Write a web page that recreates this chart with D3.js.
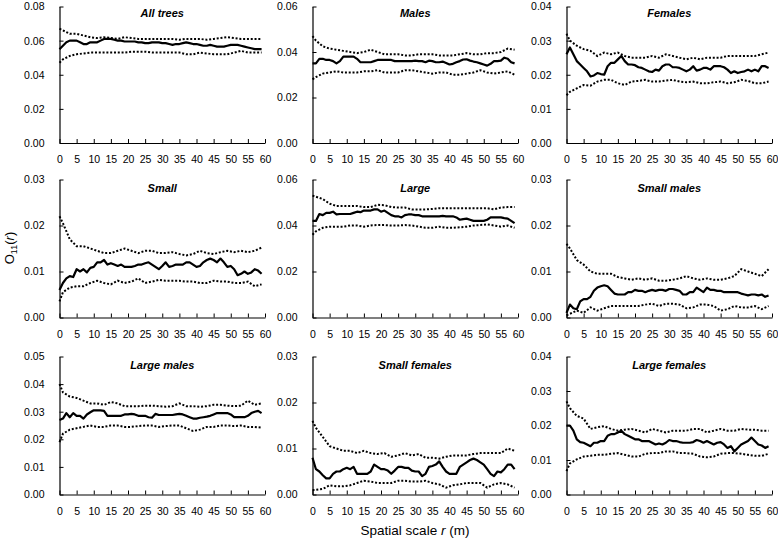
<!DOCTYPE html>
<html><head><meta charset="utf-8">
<script src="https://cdn.jsdelivr.net/npm/d3@7/dist/d3.min.js"></script>
<style>
html,body{margin:0;padding:0;background:#fff;}
svg{display:block;font-family:"Liberation Sans",Arial,sans-serif;}
.tick text{font-size:10.5px;fill:#000;}
</style></head>
<body>
<svg id="chart" width="778" height="542"></svg>
<script>
// ---- x positions (spatial scale r, m) ----
const rObs = d3.range(0, 60);                       // 0..59 step 1
const rEnv = [0].concat(d3.range(1, 60, 2));        // 0,1,3,...,59
const xTicks = [0,5,10,15,20,25,30,35,40,45,50,55,60];

// ---- All trees ----
const allTreesObs = [0.055,0.057,0.059,0.060,0.060,0.060,0.059,0.058,0.058,0.059,
0.059,0.059,0.060,0.061,0.061,0.061,0.0605,0.060,0.060,0.0595,
0.0595,0.0595,0.0595,0.059,0.059,0.0585,0.0585,0.059,0.059,0.059,
0.0585,0.0585,0.058,0.0575,0.058,0.058,0.0585,0.059,0.0585,0.058,
0.058,0.0575,0.057,0.057,0.0575,0.057,0.0565,0.0565,0.0565,0.057,
0.0575,0.0575,0.0575,0.057,0.0565,0.056,0.0555,0.055,0.055,0.055];
const allTreesHi = [0.067, 0.066,0.064,0.064,0.063,0.062,0.0615,0.062,0.0615,0.061,0.062,
0.0615,0.061,0.061,0.061,0.061,0.061,0.061,0.0605,0.061,0.061,
0.061,0.0605,0.061,0.0615,0.062,0.0615,0.061,0.061,0.061,0.061];
const allTreesLo = [0.047, 0.049,0.051,0.052,0.0525,0.053,0.053,0.053,0.053,0.053,0.053,
0.0535,0.0535,0.0535,0.053,0.053,0.053,0.053,0.053,0.052,0.052,
0.053,0.0525,0.052,0.052,0.052,0.053,0.054,0.053,0.053,0.053];

// ---- Males ----
const malesObs = [0.035,0.035,0.037,0.037,0.0365,0.0365,0.036,0.035,0.036,0.038,
0.038,0.038,0.038,0.037,0.0355,0.0355,0.0355,0.0355,0.036,0.0365,
0.0365,0.0365,0.0365,0.0365,0.036,0.036,0.036,0.036,0.036,0.036,
0.0362,0.036,0.036,0.0355,0.0362,0.036,0.0355,0.0355,0.0358,0.0352,
0.0345,0.0348,0.0355,0.036,0.0367,0.0368,0.0362,0.0358,0.0355,0.035,
0.0345,0.034,0.0348,0.036,0.036,0.0362,0.0375,0.037,0.0355,0.035];
const malesHi = [0.047, 0.045,0.0425,0.0415,0.041,0.0405,0.040,0.0395,0.040,0.041,0.040,
0.039,0.039,0.039,0.0385,0.0385,0.039,0.039,0.039,0.0385,0.0385,
0.0385,0.039,0.0395,0.039,0.039,0.0395,0.0395,0.040,0.0415,0.041];
const malesLo = [0.028, 0.029,0.0305,0.031,0.0315,0.031,0.031,0.031,0.0315,0.0315,0.032,
0.031,0.031,0.031,0.032,0.032,0.0315,0.031,0.0305,0.031,0.031,
0.030,0.030,0.0305,0.031,0.032,0.031,0.0305,0.031,0.0315,0.030];

// ---- Females ----
const femalesObs = [0.026,0.028,0.026,0.024,0.023,0.022,0.021,0.0195,0.0198,0.0205,
0.0202,0.020,0.0225,0.0235,0.0235,0.0245,0.0255,0.024,0.023,0.023,
0.0228,0.0222,0.022,0.0215,0.021,0.0208,0.0215,0.0212,0.0225,0.023,
0.023,0.0222,0.0222,0.022,0.0215,0.021,0.0215,0.0225,0.0212,0.0215,
0.022,0.022,0.0215,0.0225,0.0225,0.0225,0.0222,0.0215,0.0205,0.021,
0.0205,0.0208,0.021,0.0215,0.021,0.0215,0.021,0.0225,0.0225,0.022];
const femalesHi = [0.032, 0.030,0.0285,0.0275,0.027,0.0255,0.0265,0.026,0.0265,0.0255,0.025,
0.025,0.025,0.0255,0.025,0.026,0.0255,0.025,0.0245,0.025,0.0245,
0.025,0.025,0.025,0.0255,0.0255,0.0255,0.0255,0.0255,0.026,0.0265];
const femalesLo = [0.014, 0.015,0.016,0.017,0.0168,0.018,0.0185,0.0185,0.0175,0.017,0.018,
0.0182,0.0185,0.018,0.018,0.0183,0.0185,0.018,0.0178,0.018,0.0175,
0.0175,0.0178,0.018,0.0175,0.0178,0.0185,0.0182,0.0175,0.0175,0.018];

// ---- Small ----
const smallObs = [0.006,0.0075,0.0085,0.009,0.0088,0.0105,0.010,0.0105,0.0098,0.0108,
0.011,0.012,0.012,0.0125,0.0115,0.0118,0.0115,0.0112,0.0115,0.011,
0.011,0.011,0.0112,0.0115,0.0115,0.0118,0.012,0.0115,0.011,0.0105,
0.0112,0.012,0.011,0.0112,0.0115,0.0115,0.0115,0.012,0.012,0.0115,
0.011,0.0112,0.012,0.0125,0.0128,0.0125,0.012,0.0128,0.012,0.011,
0.0112,0.0105,0.0092,0.0095,0.010,0.0095,0.0098,0.0105,0.0102,0.0095];
const smallHi = [0.022, 0.0205,0.017,0.0155,0.0155,0.015,0.0145,0.014,0.014,0.0145,0.015,
0.0145,0.014,0.0145,0.0145,0.014,0.014,0.0142,0.0138,0.0135,0.0138,
0.0145,0.014,0.0138,0.0142,0.0145,0.0142,0.0145,0.0142,0.0145,0.0152];
const smallLo = [0.0035, 0.0055,0.0065,0.0068,0.0068,0.0075,0.008,0.0075,0.0072,0.008,0.0075,
0.0078,0.0085,0.0075,0.0078,0.0082,0.008,0.008,0.008,0.0078,0.0078,
0.0075,0.0075,0.008,0.0078,0.0078,0.0075,0.0075,0.0078,0.0068,0.0072];

// ---- Large ----
const largeObs = [0.042,0.042,0.045,0.0445,0.0455,0.0455,0.046,0.0448,0.045,0.045,
0.045,0.045,0.0455,0.046,0.0458,0.0465,0.0465,0.0465,0.047,0.047,
0.046,0.0465,0.0455,0.0445,0.044,0.044,0.0435,0.0445,0.0448,0.0448,
0.0445,0.0445,0.044,0.044,0.044,0.044,0.044,0.044,0.0442,0.044,
0.044,0.044,0.0435,0.0425,0.0428,0.043,0.0425,0.042,0.042,0.042,
0.042,0.0425,0.0435,0.0435,0.0435,0.0435,0.0432,0.043,0.042,0.041];
const largeHi = [0.053, 0.0525,0.0515,0.0495,0.0485,0.0485,0.0485,0.0485,0.048,0.048,0.049,
0.0488,0.048,0.0478,0.0478,0.047,0.047,0.047,0.0472,0.0475,0.0475,
0.0475,0.0475,0.0475,0.0475,0.0475,0.0475,0.047,0.0478,0.048,0.048];
const largeLo = [0.036, 0.0375,0.039,0.0395,0.0395,0.0395,0.040,0.040,0.0395,0.040,0.0402,
0.0402,0.040,0.040,0.0402,0.040,0.0395,0.039,0.039,0.0395,0.039,
0.039,0.0392,0.0395,0.040,0.0402,0.0405,0.040,0.0395,0.040,0.039];

// ---- Small males ----
const smallMalesObs = [0.001,0.0028,0.002,0.0018,0.0035,0.004,0.004,0.0045,0.0058,0.0065,
0.0068,0.007,0.0068,0.006,0.0052,0.005,0.005,0.005,0.0055,0.0055,
0.006,0.0058,0.0058,0.0055,0.0058,0.006,0.0058,0.006,0.006,0.0058,
0.0062,0.0062,0.006,0.0058,0.005,0.005,0.0055,0.0055,0.0065,0.006,
0.0055,0.0065,0.006,0.006,0.0058,0.0058,0.0055,0.0055,0.0055,0.0055,
0.0055,0.0052,0.005,0.0048,0.005,0.005,0.0048,0.005,0.0045,0.0048];
const smallMalesHi = [0.016, 0.015,0.0125,0.0115,0.010,0.0095,0.0095,0.0095,0.0088,0.0085,0.0082,
0.0085,0.0082,0.0085,0.008,0.008,0.0082,0.0085,0.009,0.0085,0.0082,
0.0085,0.0082,0.0082,0.0085,0.009,0.0105,0.010,0.0095,0.009,0.0105];
const smallMalesLo = [0.0005, 0.0008,0.0015,0.001,0.0022,0.0015,0.002,0.0025,0.0025,0.0025,0.0025,
0.0025,0.0028,0.003,0.0025,0.003,0.003,0.0028,0.002,0.0022,0.0028,
0.0028,0.0025,0.0015,0.0018,0.0025,0.0022,0.0022,0.0025,0.0018,0.0025];

// ---- Large males ----
const largeMalesObs = [0.027,0.0275,0.0295,0.028,0.0295,0.0285,0.0285,0.0275,0.029,0.0298,
0.0305,0.0305,0.0305,0.0303,0.0285,0.0285,0.0285,0.0285,0.0285,0.029,
0.029,0.0292,0.029,0.0285,0.0285,0.0285,0.028,0.0278,0.0292,0.0288,
0.0288,0.0288,0.0288,0.0288,0.029,0.0292,0.029,0.0285,0.028,0.0275,
0.0275,0.0278,0.028,0.0282,0.0285,0.029,0.0295,0.0295,0.0295,0.0295,
0.029,0.028,0.028,0.028,0.028,0.0285,0.0295,0.030,0.0303,0.0295];
const largeMalesHi = [0.040, 0.037,0.0355,0.035,0.034,0.033,0.033,0.0325,0.0335,0.033,0.032,
0.032,0.032,0.0322,0.0322,0.032,0.0318,0.032,0.033,0.032,0.032,
0.0318,0.032,0.0325,0.0325,0.0322,0.032,0.0322,0.034,0.0325,0.033];
const largeMalesLo = [0.019, 0.022,0.0235,0.024,0.0245,0.025,0.0245,0.0245,0.025,0.025,0.0245,
0.0245,0.0248,0.025,0.025,0.0245,0.0248,0.025,0.025,0.024,0.023,
0.0235,0.0245,0.0245,0.025,0.025,0.0248,0.025,0.0245,0.0245,0.0242];

// ---- Small females ----
const smallFemalesObs = [0.008,0.0055,0.005,0.0042,0.0035,0.0035,0.0045,0.005,0.005,0.0055,
0.0058,0.0055,0.006,0.0045,0.0045,0.0045,0.0045,0.005,0.0065,0.006,
0.0055,0.0055,0.0052,0.0045,0.0052,0.006,0.006,0.0058,0.0058,0.0052,
0.005,0.005,0.004,0.0045,0.006,0.0062,0.0065,0.0072,0.006,0.005,
0.0045,0.0045,0.0045,0.006,0.0065,0.007,0.0075,0.0078,0.0075,0.007,
0.0065,0.0055,0.0045,0.004,0.005,0.0048,0.0055,0.0065,0.0065,0.0055];
const smallFemalesHi = [0.016, 0.0145,0.0125,0.0105,0.010,0.0095,0.0095,0.009,0.0095,0.009,0.0088,
0.009,0.0082,0.0085,0.009,0.0085,0.0088,0.008,0.008,0.0078,0.0082,
0.0085,0.0085,0.0085,0.0088,0.009,0.009,0.009,0.009,0.010,0.0095];
const smallFemalesLo = [0.001, 0.001,0.0012,0.002,0.0018,0.0018,0.002,0.0025,0.003,0.0028,0.0025,
0.0025,0.0025,0.003,0.003,0.0028,0.0028,0.003,0.0025,0.0022,0.0015,
0.002,0.0022,0.0025,0.0025,0.0025,0.0015,0.0022,0.0025,0.0022,0.0015];

// ---- Large females ----
const largeFemalesObs = [0.020,0.020,0.0185,0.016,0.0152,0.015,0.0145,0.014,0.015,0.015,
0.0155,0.0155,0.017,0.0175,0.0175,0.018,0.0185,0.0175,0.017,0.0165,
0.016,0.016,0.0155,0.0155,0.0155,0.015,0.0145,0.0148,0.0145,0.015,
0.0158,0.0155,0.0155,0.0152,0.015,0.015,0.015,0.0152,0.0158,0.0155,
0.015,0.0155,0.015,0.0145,0.015,0.0152,0.0145,0.0135,0.014,0.0125,
0.0135,0.0145,0.015,0.0155,0.0165,0.0155,0.0145,0.0142,0.0135,0.014];
const largeFemalesHi = [0.027, 0.025,0.0228,0.022,0.019,0.0195,0.0198,0.019,0.0185,0.0188,0.019,
0.0185,0.018,0.019,0.0185,0.018,0.0185,0.0185,0.0185,0.019,0.019,
0.018,0.0185,0.019,0.0185,0.0185,0.019,0.0188,0.0188,0.0185,0.0185];
const largeFemalesLo = [0.0068, 0.009,0.0102,0.011,0.0112,0.0115,0.0115,0.0118,0.012,0.0115,0.011,
0.011,0.0118,0.012,0.012,0.0125,0.0125,0.012,0.012,0.0118,0.011,
0.0108,0.011,0.0118,0.012,0.012,0.0118,0.0115,0.0112,0.0112,0.0118];

// ---- panel titles and y tick sets ----
const titles = ["All trees","Males","Females","Small","Large","Small males","Large males","Small females","Large females"];
const yTickSets = [
  [0,0.02,0.04,0.06,0.08],
  [0,0.02,0.04,0.06],
  [0,0.01,0.02,0.03,0.04],
  [0,0.01,0.02,0.03],
  [0,0.02,0.04,0.06],
  [0,0.01,0.02,0.03],
  [0,0.01,0.02,0.03,0.04,0.05],
  [0,0.01,0.02,0.03],
  [0,0.01,0.02,0.03,0.04]
];
const obsSeries = [allTreesObs,malesObs,femalesObs,smallObs,largeObs,smallMalesObs,largeMalesObs,smallFemalesObs,largeFemalesObs];
const hiSeries  = [allTreesHi,malesHi,femalesHi,smallHi,largeHi,smallMalesHi,largeMalesHi,smallFemalesHi,largeFemalesHi];
const loSeries  = [allTreesLo,malesLo,femalesLo,smallLo,largeLo,smallMalesLo,largeMalesLo,smallFemalesLo,largeFemalesLo];

// ---- layout ----
const colX = [59.5, 312.5, 566.5];
const rowTop = [6.5, 179.5, 356.5];
const rowH = [136.5, 138, 138];
const pw = 205.5;

const svg = d3.select("#chart");

function pairs(xs, ys){ const n=Math.min(xs.length, ys.length); const out=[]; for(let i=0;i<n;i++) out.push([xs[i], ys[i]]); return out; }

titles.forEach((title, i) => {
  const col = i % 3, row = Math.floor(i / 3);
  const ph = rowH[row];
  const ticks = yTickSets[i];
  const g = svg.append("g").attr("transform", `translate(${colX[col]},${rowTop[row]})`);
  const x = d3.scaleLinear().domain([0, 60]).range([0, pw]);
  const y = d3.scaleLinear().domain([0, ticks[ticks.length-1]]).range([ph, 0]);

  const line = d3.line().x(d => x(d[0])).y(d => y(d[1]));

  // envelopes (dotted)
  [hiSeries[i], loSeries[i]].forEach(s => {
    g.append("path").datum(pairs(rEnv, s))
      .attr("d", line).attr("fill", "none").attr("stroke", "#000")
      .attr("stroke-width", 2).attr("stroke-dasharray", "2,1.8");
  });
  // observed (solid)
  g.append("path").datum(pairs(rObs, obsSeries[i]))
    .attr("d", line).attr("fill", "none").attr("stroke", "#000")
    .attr("stroke-width", 2.2).attr("stroke-linejoin", "round");

  // axes
  const ya = g.append("g").call(d3.axisLeft(y).tickValues(ticks).tickFormat(d3.format(".2f"))
      .tickSizeInner(-4).tickSizeOuter(0).tickPadding(15));
  const xa = g.append("g").attr("transform", `translate(0,${ph})`)
    .call(d3.axisBottom(x).tickValues(xTicks).tickFormat(d3.format("d"))
      .tickSizeInner(-4).tickSizeOuter(0).tickPadding(13));
  [ya, xa].forEach(a => {
    a.select(".domain").attr("stroke", "#000").attr("stroke-width", 1.2);
    a.selectAll(".tick line").attr("stroke", "#000");
    a.selectAll(".tick text").attr("fill", "#000").style("font-size", "10.5px")
      .style("font-family", "'Liberation Sans', Arial, sans-serif");
  });

  // title
  g.append("text").attr("x", pw/2).attr("y", 16.7 - rowTop[0] + (row === 0 ? 0 : rowTop[0] - 4.5)).attr("text-anchor", "middle")
    .style("font-style", "italic").style("font-weight", "bold").style("font-size", "11px").attr("fill", "#000")
    .text(title);
});

// y-axis label O11(r)
const yl = svg.append("text")
  .attr("transform", "translate(14,248) rotate(-90)")
  .attr("text-anchor", "middle").style("font-size", "13px").attr("fill", "#000");
yl.append("tspan").text("O");
yl.append("tspan").attr("dy", 3).style("font-size", "9px").text("11");
yl.append("tspan").attr("dy", -3).text("(");
yl.append("tspan").style("font-style", "italic").text("r");
yl.append("tspan").text(")");

// x-axis label
const xl = svg.append("text").attr("x", 415).attr("y", 535)
  .attr("text-anchor", "middle").style("font-size", "13.5px").attr("fill", "#000");
xl.append("tspan").text("Spatial scale ");
xl.append("tspan").style("font-style", "italic").text("r");
xl.append("tspan").text(" (m)");
</script>
</body></html>
